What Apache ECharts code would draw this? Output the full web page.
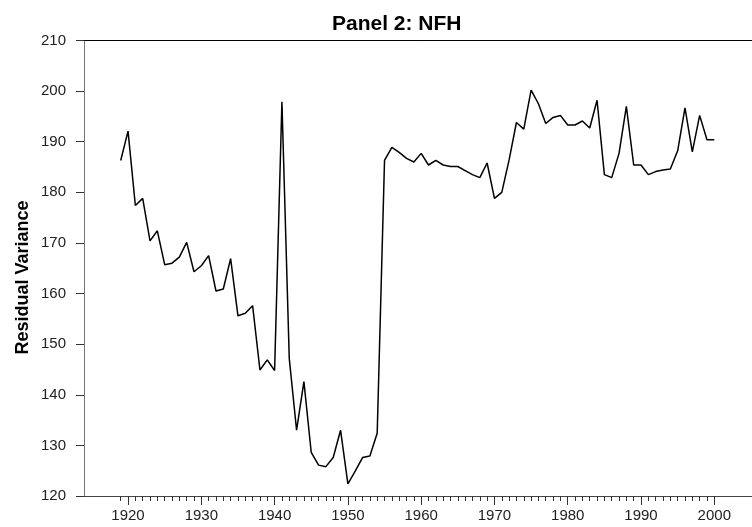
<!DOCTYPE html>
<html>
<head>
<meta charset="utf-8">
<script src="https://cdn.jsdelivr.net/npm/echarts@6/dist/echarts.min.js"></script>
<style>html,body{margin:0;padding:0;background:#fff;}#c{width:752px;height:527px;}</style>
</head>
<body>
<div id="c"></div>
<script>
var years = [];
for (var y = 1919; y <= 2000; y++) years.push(String(y));
var residualVariance = [
  186.3, 192.1, 177.4, 178.8, 170.4, 172.4, 165.7, 166.0, 167.2, 170.1,
  164.3, 165.5, 167.5, 160.5, 160.9, 166.9, 155.6, 156.1, 157.6, 144.9,
  146.9, 144.8, 197.9, 147.2, 133.0, 142.6, 128.6, 126.1, 125.8, 127.6,
  133.0, 122.4, 124.9, 127.6, 127.9, 132.4, 186.3, 188.9, 187.9, 186.7,
  186.0, 187.7, 185.4, 186.3, 185.4, 185.1, 185.1, 184.3, 183.5, 182.9,
  185.8, 178.8, 180.0, 186.4, 193.8, 192.5, 200.2, 197.5, 193.6, 194.8,
  195.2, 193.3, 193.3, 194.1, 192.7, 198.2, 183.5, 182.9, 187.7, 197.0,
  185.4, 185.4, 183.5, 184.1, 184.4, 184.6, 188.2, 196.7, 188.0, 195.2,
  190.4, 190.4
];
var titleText = 'Panel 2: NFH';
var yAxisTitle = 'Residual Variance';
var yMin = 120, yMax = 210, yStep = 10;

var FONT = '"Liberation Sans", Arial, Helvetica, sans-serif';
var isDecade = function (idx, val) { return Number(val) % 10 === 0; };

var chart = echarts.init(document.getElementById('c'), null, {renderer: 'canvas'});
chart.setOption({
  animation: false,
  backgroundColor: '#fff',
  title: {
    text: titleText,
    left: 327, top: 9,
    textStyle: {fontFamily: FONT, fontSize: 21, fontWeight: 'bold', color: '#000'}
  },
  graphic: [{
    type: 'text',
    x: 23, y: 277.5,
    rotation: Math.PI / 2,
    style: {
      text: yAxisTitle,
      font: 'bold 18px ' + FONT,
      fill: '#000',
      textAlign: 'center',
      textVerticalAlign: 'middle'
    }
  }],
  grid: [
    {left: 84, right: 0, top: 40.5, bottom: 31},
    {left: 120.7, right: 37.7, top: 40.5, bottom: 31}
  ],
  xAxis: [
    {type: 'value', gridIndex: 0, min: 0, max: 1, position: 'bottom',
      axisLine: {show: true, lineStyle: {color: '#444', width: 1}},
      axisTick: {show: false}, axisLabel: {show: false}, splitLine: {show: false}},
    {type: 'value', gridIndex: 0, min: 0, max: 1, position: 'top',
      axisLine: {show: true, onZero: false, lineStyle: {color: '#000', width: 1}},
      axisTick: {show: false}, axisLabel: {show: false}, splitLine: {show: false}},
    {type: 'category', gridIndex: 1, data: years, boundaryGap: false, position: 'bottom',
      axisLine: {show: false},
      axisTick: {show: true, interval: 0, length: 5, lineStyle: {color: '#333', width: 1}},
      axisLabel: {show: true, interval: isDecade, margin: 12,
        fontFamily: FONT, fontSize: 15, color: '#222'},
      splitLine: {show: false}},
    {type: 'category', gridIndex: 1, data: years, boundaryGap: false, position: 'bottom',
      axisLine: {show: false},
      axisTick: {show: true, interval: isDecade, length: 9, lineStyle: {color: '#333', width: 1}},
      axisLabel: {show: false},
      splitLine: {show: false}}
  ],
  yAxis: [
    {type: 'value', gridIndex: 0, min: yMin, max: yMax, interval: yStep,
      axisLine: {show: true, lineStyle: {color: '#777', width: 1}},
      axisTick: {show: true, length: 8, lineStyle: {color: '#333', width: 1}},
      axisLabel: {margin: 18, fontFamily: FONT, fontSize: 15, color: '#222'},
      splitLine: {show: false}},
    {type: 'value', gridIndex: 1, min: yMin, max: yMax, interval: yStep, show: false}
  ],
  series: [{
    type: 'line',
    xAxisIndex: 2, yAxisIndex: 1,
    data: residualVariance,
    showSymbol: false,
    symbol: 'none',
    lineStyle: {color: '#000', width: 1.5},
    z: 5
  }]
});
</script>
</body>
</html>
